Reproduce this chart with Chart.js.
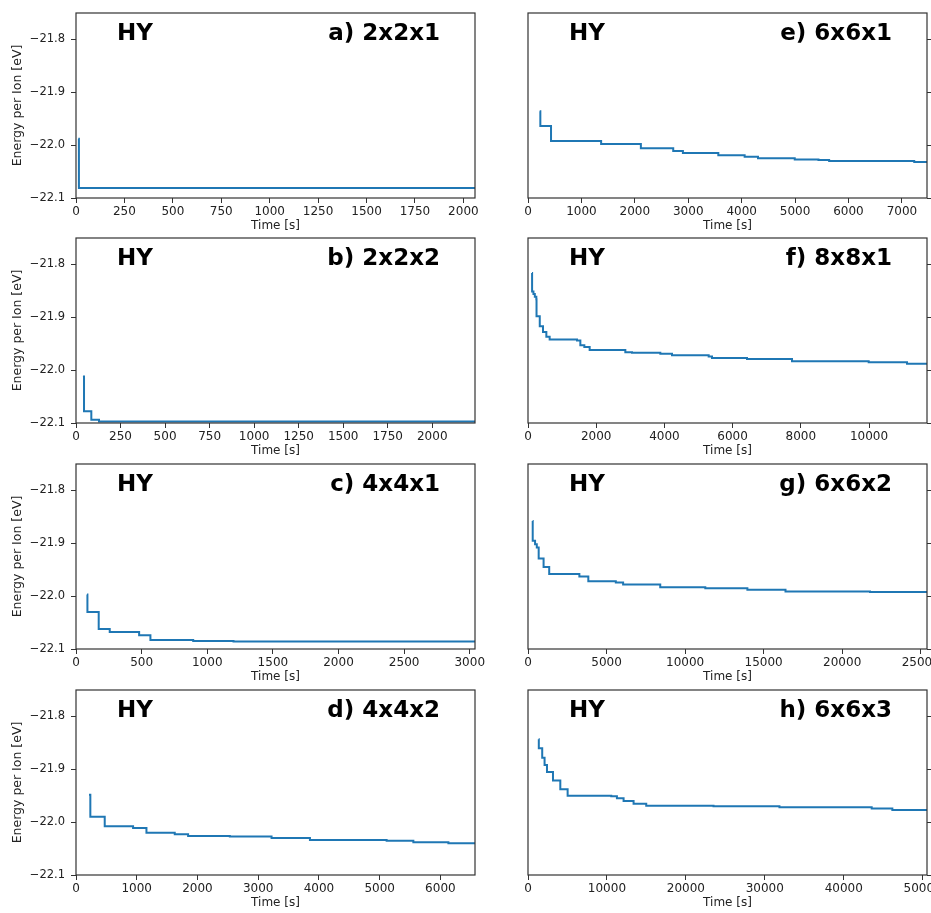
<!DOCTYPE html>
<html lang="en">
<head>
<meta charset="UTF-8">
<title>HY energy per ion vs time</title>
<script src="https://cdn.jsdelivr.net/npm/chart.js"></script>
<style>
    html, body {
        margin: 0;
        padding: 0;
        background: #fff;
        width: 931px;
        height: 913px;
        overflow: hidden;
    }
    canvas {
        position: absolute;
    }
</style>
</head>
<body>
<script>
// time [s] and energy per ion [eV] (value holds until next time)
const timeA = [12, 15, 2060];
const energyA = [-21.988, -22.081, -22.081];

const timeB = [39, 45, 86, 129, 2240];
const energyB = [-22.012, -22.078, -22.094, -22.097, -22.097];

const timeC = [84, 87, 173, 257, 481, 567, 893, 1200, 3040];
const energyC = [-21.997, -22.03, -22.062, -22.068, -22.074, -22.083, -22.085, -22.086, -22.086];

const timeD = [214, 236, 473, 940, 1160, 1626, 1846, 2533, 3220, 3852, 5115, 5555, 6132, 6570];
const energyD = [-21.948, -21.990, -22.008, -22.011, -22.020, -22.023, -22.026, -22.027, -22.030, -22.034, -22.035, -22.038, -22.040, -22.040];

const timeE = [219, 231, 431, 1369, 2113, 2719, 2900, 3563, 4056, 4306, 4994, 5438, 5638, 7231, 7470];
const energyE = [-21.936, -21.964, -21.992, -21.998, -22.006, -22.011, -22.015, -22.019, -22.022, -22.025, -22.027, -22.028, -22.030, -22.032, -22.032];

const timeF = [117, 120, 160, 200, 244, 250, 345, 440, 538, 635, 1437, 1535, 1652, 1808, 2854, 3050, 3880, 4223, 5298, 5396, 6422, 7742, 9990, 11114, 11700];
const energyF = [-21.816, -21.851, -21.856, -21.861, -21.866, -21.898, -21.917, -21.928, -21.937, -21.942, -21.944, -21.953, -21.956, -21.962, -21.966, -21.967, -21.969, -21.972, -21.974, -21.977, -21.979, -21.983, -21.985, -21.988, -21.988];

const timeG = [295, 300, 450, 560, 680, 992, 1350, 3270, 3840, 5590, 6055, 8418, 11287, 13966, 16392, 19135, 21772, 25400];
const energyG = [-21.858, -21.895, -21.902, -21.908, -21.929, -21.945, -21.958, -21.963, -21.972, -21.974, -21.978, -21.983, -21.985, -21.988, -21.991, -21.991, -21.992, -21.992];

const timeH = [1350, 1370, 1800, 2100, 2405, 3165, 4093, 5021, 10548, 11266, 12110, 13376, 14979, 23502, 25612, 31857, 43544, 46160, 50550];
const energyH = [-21.843, -21.860, -21.878, -21.892, -21.905, -21.921, -21.938, -21.950, -21.951, -21.955, -21.960, -21.965, -21.969, -21.970, -21.970, -21.972, -21.974, -21.977, -21.977];

// axis ticks
const ticksA = [0, 250, 500, 750, 1000, 1250, 1500, 1750, 2000];
const ticksB = [0, 250, 500, 750, 1000, 1250, 1500, 1750, 2000];
const ticksC = [0, 500, 1000, 1500, 2000, 2500, 3000];
const ticksD = [0, 1000, 2000, 3000, 4000, 5000, 6000];
const ticksE = [0, 1000, 2000, 3000, 4000, 5000, 6000, 7000];
const ticksF = [0, 2000, 4000, 6000, 8000, 10000];
const ticksG = [0, 5000, 10000, 15000, 20000, 25000];
const ticksH = [0, 10000, 20000, 30000, 40000, 50000];
const energyTicks = [-22.1, -22.0, -21.9, -21.8];
const energyMin = -22.1;
const energyMax = -21.75;

const panels = [
    { tag: 'a) 2x2x1', time: timeA, energy: energyA, xMax: 2060, xTicks: ticksA, col: 0, row: 0 },
    { tag: 'b) 2x2x2', time: timeB, energy: energyB, xMax: 2240, xTicks: ticksB, col: 0, row: 1 },
    { tag: 'c) 4x4x1', time: timeC, energy: energyC, xMax: 3040, xTicks: ticksC, col: 0, row: 2 },
    { tag: 'd) 4x4x2', time: timeD, energy: energyD, xMax: 6570, xTicks: ticksD, col: 0, row: 3 },
    { tag: 'e) 6x6x1', time: timeE, energy: energyE, xMax: 7470, xTicks: ticksE, col: 1, row: 0 },
    { tag: 'f) 8x8x1', time: timeF, energy: energyF, xMax: 11700, xTicks: ticksF, col: 1, row: 1 },
    { tag: 'g) 6x6x2', time: timeG, energy: energyG, xMax: 25400, xTicks: ticksG, col: 1, row: 2 },
    { tag: 'h) 6x6x3', time: timeH, energy: energyH, xMax: 50550, xTicks: ticksH, col: 1, row: 3 }
];

const FONT = 'DejaVu Sans';
const INK = '#222';
const SPINE = '#333';

// frame around the plot area plus the "HY" and panel labels
const decoPlugin = {
    id: 'deco',
    afterDraw(chart, args, opts) {
        const { ctx, chartArea: a } = chart;
        ctx.save();
        ctx.strokeStyle = SPINE;
        ctx.lineWidth = 1.2;
        ctx.strokeRect(a.left, a.top, a.right - a.left, a.bottom - a.top);
        ctx.fillStyle = '#000';
        ctx.font = 'bold 23px "' + FONT + '"';
        ctx.textBaseline = 'alphabetic';
        ctx.textAlign = 'left';
        ctx.fillText('HY', a.left + 41, a.top + 27);
        ctx.textAlign = 'right';
        ctx.fillText(opts.tag, a.left + 364, a.top + 27);
        ctx.restore();
    }
};

const rowTops = [13, 238, 464, 690];

panels.forEach(p => {
    const left = p.col === 0;
    const canvas = document.createElement('canvas');
    const w = left ? 510 : 480;
    const h = 234;
    canvas.width = w;
    canvas.height = h;
    canvas.style.width = w + 'px';
    canvas.style.height = h + 'px';
    canvas.style.left = (left ? 0 : 480) + 'px';
    canvas.style.top = (rowTops[p.row] - 13) + 'px';
    document.body.appendChild(canvas);

    const yScale = {
        position: left ? 'left' : 'right',
        min: energyMin,
        max: energyMax,
        afterBuildTicks: s => { s.ticks = energyTicks.map(v => ({ value: v })); },
        afterFit: s => { s.width = left ? 76 : 5; },
        grid: { drawOnChartArea: false, drawTicks: true, tickLength: 5, tickColor: SPINE, tickWidth: 1 },
        border: { display: false },
        ticks: {
            display: left,
            font: { family: FONT, size: 11.5 },
            color: INK,
            padding: 6,
            callback: v => v.toFixed(1).replace('-', '\u2212')
        },
        title: {
            display: left,
            text: 'Energy per Ion [eV]',
            font: { family: FONT, size: 12.5 },
            color: INK,
            padding: { top: 10, bottom: 0 }
        }
    };

    new Chart(canvas, {
        type: 'line',
        data: {
            datasets: [{
                data: p.time.map((t, i) => ({ x: t, y: p.energy[i] })),
                borderColor: '#1f77b4',
                borderWidth: 2,
                pointRadius: 0,
                stepped: true,
                fill: false
            }]
        },
        options: {
            responsive: false,
            animation: false,
            devicePixelRatio: 1,
            events: [],
            layout: { padding: { top: 13, bottom: 0, left: left ? 0 : 48, right: left ? 35 : 28 } },
            plugins: {
                legend: { display: false },
                tooltip: { enabled: false },
                deco: { tag: p.tag }
            },
            scales: {
                x: {
                    type: 'linear',
                    min: 0,
                    max: p.xMax,
                    afterBuildTicks: s => { s.ticks = p.xTicks.map(v => ({ value: v })); },
                    afterFit: s => { s.height = 36; },
                    grid: { drawOnChartArea: false, drawTicks: true, tickLength: 5, tickColor: SPINE, tickWidth: 1 },
                    border: { display: false },
                    ticks: {
                        font: { family: FONT, size: 12 },
                        color: INK,
                        padding: 2,
                        maxRotation: 0,
                        autoSkip: false,
                        callback: v => String(v)
                    },
                    title: {
                        display: true,
                        text: 'Time [s]',
                        font: { family: FONT, size: 12 },
                        color: INK,
                        padding: { top: 0, bottom: 1 }
                    }
                },
                y: yScale
            }
        },
        plugins: [decoPlugin]
    });
});
</script>
</body>
</html>
